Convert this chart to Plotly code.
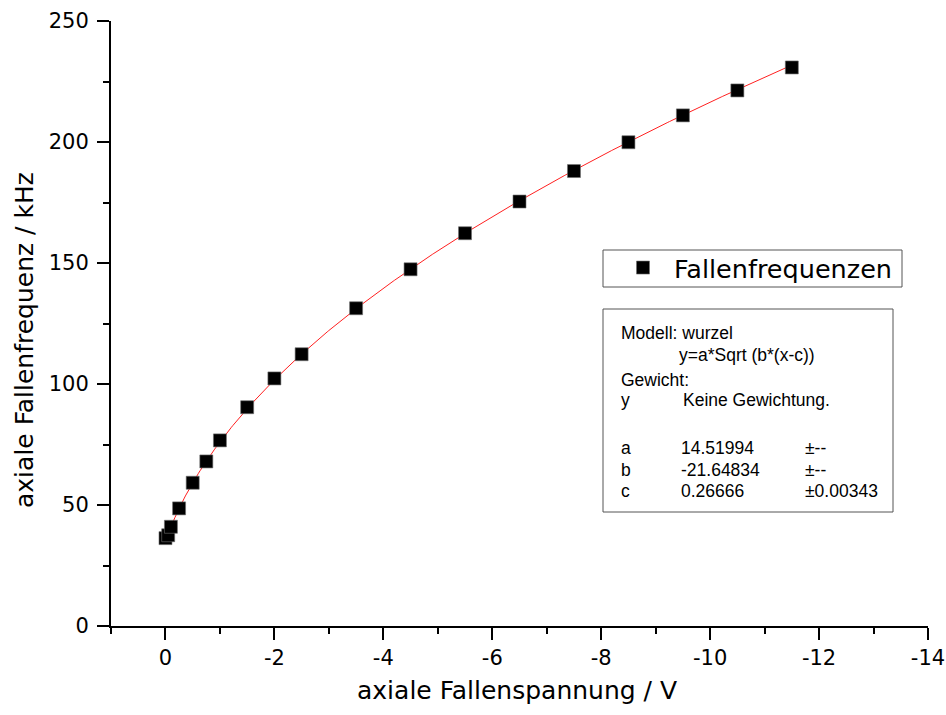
import numpy as np
import plotly.graph_objects as go

# Measured trap frequencies versus axial trap voltage
spannung = [0.0, -0.05, -0.1, -0.25, -0.5, -0.75, -1.0, -1.5, -2.0, -2.5,
            -3.5, -4.5, -5.5, -6.5, -7.5, -8.5, -9.5, -10.5, -11.5]
frequenz = [36.3, 37.5, 41.0, 48.6, 59.2, 68.0, 76.7, 90.4, 102.3, 112.3,
            131.3, 147.4, 162.3, 175.4, 188.0, 199.9, 211.0, 221.3, 230.8]

# Fit parameters of the model y = a*Sqrt(b*(x-c))
fit_a = 14.51994
fit_b = -21.64834
fit_c = 0.26666
fit_c_err = 0.00343

x_ticks = [0, -2, -4, -6, -8, -10, -12, -14]
y_ticks = [0, 50, 100, 150, 200, 250]

W, H = 946, 715
L, R, T, B = 111, 18, 21, 89
PW, PH = W - L - R, H - T - B


def px(x):
    return (x - L) / PW


def py(y):
    return (H - B - y) / PH


x_fit = np.linspace(spannung[0], spannung[-1], 400)
y_fit = fit_a * np.sqrt(fit_b * (x_fit - fit_c))

fig = go.Figure()
fig.add_trace(go.Scatter(
    x=x_fit, y=y_fit, mode="lines",
    line=dict(color="#ff2020", width=1),
    showlegend=False, hoverinfo="skip",
))
fig.add_trace(go.Scatter(
    x=spannung, y=frequenz, mode="markers", name="Fallenfrequenzen",
    marker=dict(symbol="square", size=13, color="black",
                line=dict(color="#707070", width=0.6)),
))

axis_font = dict(family="DejaVu Sans", size=21, color="black")
fig.update_xaxes(
    range=[1, -14], tickvals=x_ticks, ticktext=[str(v) for v in x_ticks],
    automargin=False,
    showgrid=False, zeroline=False, showline=True, linecolor="black", linewidth=2,
    ticks="outside", ticklen=12, tickwidth=2, tickcolor="black",
    tickfont=axis_font,
    minor=dict(ticks="outside", ticklen=6, tickwidth=2, tickcolor="black",
               tickvals=[1, -1, -3, -5, -7, -9, -11, -13], showgrid=False),
)
fig.update_yaxes(
    range=[0, 250], tickvals=y_ticks, automargin=False,
    showgrid=False, zeroline=False, showline=True, linecolor="black", linewidth=2,
    ticks="outside", ticklen=12, tickwidth=2, tickcolor="black",
    tickfont=axis_font, ticklabelstandoff=4,
    minor=dict(ticks="outside", ticklen=6, tickwidth=2, tickcolor="black",
               tickvals=[25, 75, 125, 175, 225], showgrid=False),
)

title_font = dict(family="DejaVu Sans", size=25, color="black")
box_font = dict(family="Liberation Sans", size=17.5, color="black")

annotations = [
    dict(text="axiale Fallenspannung / V", x=px(517), y=py(690),
         xanchor="center", yanchor="middle", font=title_font),
    dict(text="axiale Fallenfrequenz / kHz", x=px(24), y=py(340), textangle=-90,
         xanchor="center", yanchor="middle", font=title_font),
]

# Fit report box
report = [
    (619, 333, "Modell: wurzel"),
    (677, 355, "y=a*Sqrt (b*(x-c))"),
    (619, 380, "Gewicht:"),
    (619, 400, "y"),
    (681, 400, "Keine Gewichtung."),
    (619, 448, "a"), (679, 448, f"{fit_a:.5f}"), (803, 448, "±--"),
    (619, 470, "b"), (679, 470, f"{fit_b:.5f}"), (803, 470, "±--"),
    (619, 491, "c"), (679, 491, f"{fit_c:.5f}"), (803, 491, f"±{fit_c_err:.5f}"),
]
for xx, yy, txt in report:
    annotations.append(dict(text=txt, x=px(xx), y=py(yy), xanchor="left",
                            yanchor="middle", font=box_font))

box_line = dict(color="#555555", width=1)
fig.update_layout(
    width=W, height=H,
    margin=dict(l=L, r=R, t=T, b=B, autoexpand=False),
    paper_bgcolor="white", plot_bgcolor="white",
    annotations=[dict(a, xref="paper", yref="paper", showarrow=False)
                 for a in annotations],
    shapes=[
        # frame of the fit report
        dict(type="rect", xref="paper", yref="paper",
             x0=px(603), x1=px(893), y0=py(512), y1=py(309), line=box_line),
        # frame of the legend
        dict(type="rect", xref="paper", yref="paper",
             x0=px(603), x1=px(902), y0=py(287), y1=py(250), line=box_line),
    ],
    legend=dict(x=px(612), y=py(268), xanchor="left", yanchor="middle",
                borderwidth=0, bgcolor="rgba(0,0,0,0)",
                font=dict(family="DejaVu Sans", size=25.5, color="black"),
                itemwidth=52),
)

fig.write_html("out.html")
